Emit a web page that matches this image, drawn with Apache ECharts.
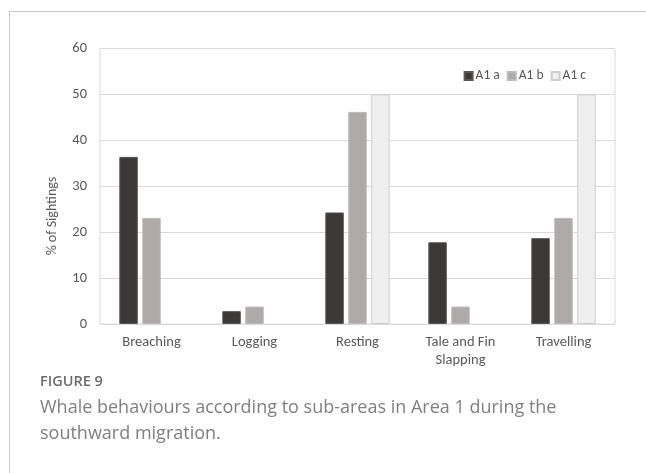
<!DOCTYPE html>
<html>
<head>
<meta charset="utf-8">
<script src="https://cdn.jsdelivr.net/npm/echarts@6/dist/echarts.min.js"></script>
<style>
  html, body { margin: 0; padding: 0; background: #ffffff; }
  #chart { width: 646px; height: 473px; }
</style>
</head>
<body>
<div id="chart"></div>
<script>
// Behaviour categories on the x axis
const categories = ['Breaching', 'Logging', 'Resting', 'Tale and Fin\nSlapping', 'Travelling'];
// Percentage of sightings per sub-area
const seriesNames = ['A1 a', 'A1 b', 'A1 c'];
const a1a = [36.4, 2.8, 24.3, 17.8, 18.7];
const a1b = [23.1, 3.8, 46.2, 3.8, 23.1];
const a1c = [0, 0, 50, 0, 50];
// Y axis range
const yMin = 0, yMax = 60, yStep = 10;

const fills = ['#3b3838', '#aeaaaa', '#efefef'];
const borders = ['#5a5757', '#bdbaba', '#cfcdcd'];
const labelFont = 'Carlito, Calibri, Lato, sans-serif';
const captionFont = '"Open Sans", "Noto Sans", sans-serif';

function barData(values) {
  return values.map(v => ({
    value: v,
    itemStyle: v === 0 ? { borderWidth: 0, color: 'transparent' } : {}
  }));
}

const chart = echarts.init(document.getElementById('chart'), null, { renderer: 'canvas' });

chart.setOption({
  animation: false,
  backgroundColor: '#ffffff',
  grid: {
    left: 100, right: 31, top: 48.5, bottom: 149,
    show: true, borderColor: '#d9d9d9', borderWidth: 1, containLabel: false
  },
  legend: {
    data: seriesNames,
    right: 55, top: 64,
    icon: 'rect', itemWidth: 8, itemHeight: 8, itemGap: 7,
    textStyle: { color: '#595959', fontSize: 13.5, fontFamily: labelFont, padding: [0, 0, 0, -2] }
  },
  xAxis: {
    type: 'category',
    data: categories,
    axisLine: { show: true, lineStyle: { color: '#d9d9d9' } },
    axisTick: { show: false },
    axisLabel: { color: '#595959', fontSize: 14.5, fontFamily: labelFont, margin: 9, lineHeight: 18, interval: 0 }
  },
  yAxis: {
    type: 'value',
    min: yMin, max: yMax, interval: yStep,
    axisLine: { show: false },
    axisTick: { show: false },
    splitLine: { lineStyle: { color: '#d9d9d9' } },
    axisLabel: { color: '#595959', fontSize: 14.5, fontFamily: labelFont, margin: 13 }
  },
  series: [a1a, a1b, a1c].map((vals, i) => ({
    name: seriesNames[i],
    type: 'bar',
    barWidth: 18.5,
    barGap: '24%',
    data: barData(vals),
    itemStyle: { color: fills[i], borderColor: borders[i], borderWidth: 1 }
  })),
  graphic: [
    // card frame
    { type: 'line', shape: { x1: 9, y1: 11.5, x2: 646, y2: 11.5 }, style: { stroke: '#c8c8c8', lineWidth: 1 }, silent: true },
    { type: 'line', shape: { x1: 9.5, y1: 11, x2: 9.5, y2: 473 }, style: { stroke: '#c8c8c8', lineWidth: 1 }, silent: true },
    // y axis title
    {
      type: 'text', x: 52, y: 216, rotation: Math.PI / 2,
      style: { text: '% of Sightings', fill: '#595959', font: '14px ' + labelFont, textAlign: 'center', textVerticalAlign: 'middle' }
    },
    // figure caption
    {
      type: 'text', x: 40, y: 382,
      style: { text: 'FIGURE 9', fill: '#6b6b6b', font: '600 14.5px ' + captionFont, textAlign: 'left', textVerticalAlign: 'middle' }
    },
    {
      type: 'text', x: 40, y: 408,
      style: { text: 'Whale behaviours according to sub-areas in Area 1 during the', fill: '#7f7f7f', font: '18px ' + captionFont, textAlign: 'left', textVerticalAlign: 'middle' }
    },
    {
      type: 'text', x: 40, y: 434,
      style: { text: 'southward migration.', fill: '#7f7f7f', font: '18px ' + captionFont, textAlign: 'left', textVerticalAlign: 'middle' }
    }
  ]
});
</script>
</body>
</html>
